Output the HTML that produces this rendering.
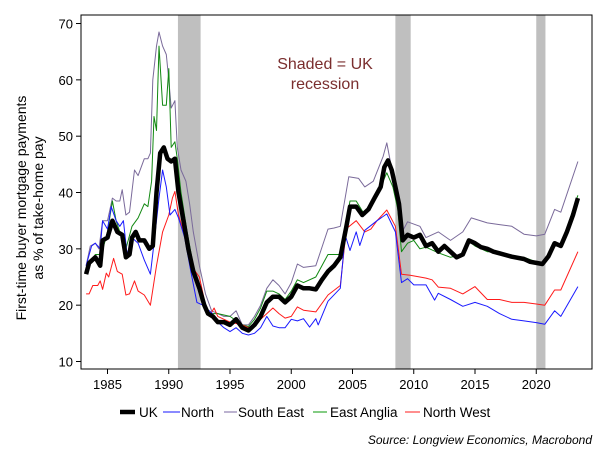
<!DOCTYPE html>
<html><head><meta charset="utf-8"><style>
body{margin:0;background:#fff;width:609px;height:455px;overflow:hidden;font-family:"Liberation Sans",Arial,sans-serif}
svg text{font-family:"Liberation Sans",Arial,sans-serif}
</style></head><body>
<svg id="chart" width="609" height="455" viewBox="0 0 609 455" xmlns="http://www.w3.org/2000/svg">
<g id="shade"></g>
<g id="series"></g>
<rect x="81" y="15" width="511" height="354" fill="none" stroke="#000" stroke-width="1"/>
<g id="yaxis"></g>
<g id="xaxis"></g>
<text transform="translate(26,208) rotate(-90)" text-anchor="middle" font-size="14">First-time buyer mortgage payments</text>
<text transform="translate(43,208) rotate(-90)" text-anchor="middle" font-size="14">as % of take-home pay</text>
<text x="325" y="69" text-anchor="middle" font-size="16" fill="#7a2e2e">Shaded = UK</text>
<text x="325" y="89" text-anchor="middle" font-size="16" fill="#7a2e2e">recession</text>
<g id="legend"></g>
<text x="592" y="444" text-anchor="end" font-size="12" font-style="italic">Source: Longview Economics, Macrobond</text>
</svg>
<script>
const yTicks=[10,20,30,40,50,60,70];
const xTicks=[1985,1990,1995,2000,2005,2010,2015,2020];
const recessions=[[1990.75,1992.6],[2008.5,2009.75],[2020.0,2020.75]];
const ukT=[1983.25,1983.5,1984,1984.4,1984.6,1985,1985.4,1985.8,1986.2,1986.5,1986.8,1987,1987.3,1987.6,1988,1988.4,1988.7,1989,1989.3,1989.6,1989.9,1990.2,1990.5,1990.8,1991.2,1991.6,1992,1992.5,1992.9,1993.2,1993.6,1994,1994.5,1995,1995.5,1996,1996.5,1997,1997.5,1998,1998.5,1999,1999.5,2000,2000.5,2001,2001.5,2002,2002.5,2003,2003.5,2004,2004.5,2004.8,2005.3,2005.8,2006.3,2006.8,2007.3,2007.6,2007.9,2008.2,2008.5,2008.8,2009.1,2009.5,2010,2010.5,2011,2011.5,2012,2012.5,2013,2013.5,2014,2014.5,2015,2015.5,2016,2016.5,2017,2018,2019,2019.5,2020,2020.5,2021,2021.5,2022,2022.5,2023,2023.4];
const ukV=[25.5,27.5,28.5,27,31.5,32,35,33,32.5,28.5,29,32,33,31.5,31.5,30,30.5,40,47,48,46,45.5,46,40,35,30,26,23,20,18.5,18,17,17,16.5,17.5,16,15.5,16.5,18,20.5,21.5,21.5,20.5,21.5,23.5,23,23,22.8,24.5,26,27,28.5,34,37.5,37.5,36,37,39,41,44.5,45.7,44,41,38,31.5,32.5,32,32.5,30.5,31,29.5,30.5,29.5,28.5,29,31.5,31,30.3,30,29.5,29.2,28.6,28.2,27.7,27.5,27.3,28.7,31,30.5,33,36,39];
const seT=[1983.25,1983.6,1984,1984.3,1984.6,1985,1985.4,1985.7,1986,1986.2,1986.5,1986.8,1987.2,1987.5,1988,1988.3,1988.5,1988.7,1989,1989.2,1989.5,1989.8,1990,1990.2,1990.5,1990.7,1991,1991.4,1991.7,1992,1992.5,1993,1993.5,1994,1994.5,1995,1995.5,1996,1996.5,1997,1997.5,1998,1998.5,1999,1999.5,2000,2000.5,2001,2002,2003,2003.5,2004,2004.7,2005.5,2006,2006.7,2007.5,2007.8,2008.5,2009,2009.5,2010.5,2011,2012,2013,2014,2014.7,2016,2017,2018,2019,2020,2020.7,2021.5,2022,2023.4];
const seV=[27,30.5,31,30,35,35,39,38.5,38.5,40.5,36,36.5,44,43,46,46,47,60,66,68.5,66,64.5,60,55,56.3,48,44,42,38,33,27,22,19,18.5,18,18,19,16.5,16.5,18,20,23,24.5,23.5,22,24,27.3,26.7,27,33.5,33.7,34,42.8,42.5,41,42,46.4,48.8,40.8,32.8,34.8,34,32,33,31.5,33,35.5,34.6,34.3,34,32.6,32.3,32.6,37,36.5,45.5];
const eaT=[1983.25,1984,1984.5,1985,1985.4,1985.7,1986,1986.5,1987,1987.5,1988,1988.3,1988.6,1988.8,1989,1989.2,1989.5,1989.8,1990,1990.2,1990.5,1990.7,1991,1991.5,1992,1992.5,1993,1993.5,1994,1995,1996,1996.5,1997,1997.5,1998,1998.5,1999,1999.5,2000,2000.5,2001,2002,2002.5,2003,2004,2004.8,2005.3,2006,2007,2007.8,2008.3,2008.7,2009,2009.5,2010,2010.5,2011,2012,2013,2014,2014.5,2015,2016,2017,2018,2019,2020,2020.5,2021,2021.5,2022,2023.4];
const eaV=[26,29,29,33,38.5,35,33,30,34,35.5,38,37.5,42,53.5,51,66,55.5,55.5,62,48,49,46,40,33,27,23.5,19,18.5,18.5,18,16.5,16.2,17.5,19.5,22.5,22.5,22,21,22.5,24.5,24,25,27,29,29,38.5,38.5,36,39.5,43.5,41,37,29.5,31,31.5,30,30.3,29.3,28.5,29,31.3,30.5,29.5,29.5,28.5,28.5,27.7,27.4,29,31,30.5,39.5];
const nwT=[1983.25,1983.5,1983.8,1984.2,1984.4,1984.6,1984.9,1985.1,1985.5,1985.8,1986.2,1986.5,1986.8,1987.2,1987.5,1988,1988.5,1989,1989.5,1990,1990.3,1990.5,1990.8,1991.2,1991.6,1992,1992.5,1993,1993.3,1993.7,1994,1995,1996,1996.5,1997,1998,1998.5,1999,1999.5,2000,2000.5,2001,2002,2003,2004,2004.5,2005.3,2006,2006.5,2007,2007.8,2008.5,2009,2009.7,2010.5,2011,2011.5,2012,2013,2014,2015,2016,2017,2018,2019,2020,2020.7,2021.5,2022,2023.4];
const nwV=[22,22,23.5,23.5,24.3,22.8,25.7,25,28.3,26,25.5,21.8,22,24.3,22.5,21.8,20,27,33,36,39,40.2,36,33,30,26.5,25,20,18,19.5,18,17,16.5,16,16.5,18.5,19.5,18.5,17.7,18,19.7,19.1,18.8,21.8,23.5,33.6,35,33,33.5,35,36.9,34,25.5,25.3,25,24.8,24.5,23.2,23,22,23.3,21,21,20.5,20.5,20.2,20,22.7,22.7,29.5];
const nT=[1983.25,1983.7,1984,1984.4,1984.6,1985,1985.3,1985.7,1986,1986.3,1986.6,1987,1987.5,1988,1988.5,1988.8,1989.2,1989.5,1989.8,1990.1,1990.5,1990.8,1991.3,1991.8,1992.3,1992.8,1993,1993.5,1994,1994.5,1995,1995.5,1996,1996.5,1997,1997.5,1998,1998.5,1999,1999.5,2000,2000.5,2001,2001.5,2002,2002.2,2003,2004,2004.4,2004.8,2005.3,2005.6,2006,2007,2007.8,2008.5,2009,2009.5,2010,2011,2011.7,2012,2013,2014,2015,2016,2017,2018,2019,2020,2020.7,2021.5,2022,2023.4];
const nV=[27,30.5,31,30,35,33.5,37.5,35,34,35,29,32,31,28,25.5,31,39,44,41,36,37,35.5,32,26,20.5,20,19.5,18.7,17,16,15.3,16,15,14.7,15,16,18,16.3,16,16,17.5,17.2,17.6,16.1,17.6,16.5,20.7,23,32.4,29.7,33,30.6,33.3,35,36.2,33,24,24.7,23.6,23.6,20.9,22.1,21,19.8,20.5,19.8,18.5,17.5,17.2,16.9,16.6,19,18,23.3];

const X=y=>107.5+(y-1985)*12.25;
const Y=v=>361.5-(v-10)*5.633;
const NS="http://www.w3.org/2000/svg";
function mk(tag,attrs,parent){const e=document.createElementNS(NS,tag);for(const k in attrs)e.setAttribute(k,attrs[k]);parent.appendChild(e);return e;}

const shade=document.getElementById('shade');
recessions.forEach(r=>{
  const e=mk('rect',{x:X(r[0]),y:15,width:X(r[1])-X(r[0]),height:354,fill:'#bfbfbf'},shade);
  
  
});
const ya=document.getElementById('yaxis');
yTicks.forEach(t=>{
  mk('line',{x1:76,x2:81,y1:Y(t),y2:Y(t),stroke:'#000'},ya);
  const e=mk('text',{x:73,y:Y(t)+5,'text-anchor':'end','font-size':13},ya);
  e.textContent=t;
  
  
});
const xa=document.getElementById('xaxis');
xTicks.forEach(t=>{
  mk('line',{x1:X(t),x2:X(t),y1:369,y2:374,stroke:'#000'},xa);
  const e=mk('text',{x:X(t),y:389,'text-anchor':'middle','font-size':13},xa);
  e.textContent=t;
  
  
});
const sg=document.getElementById('series');
const series=[
 {n:'series-south-east',t:seT,v:seV,c:'#7a6a9a',w:1},
 {n:'series-east-anglia',t:eaT,v:eaV,c:'#118811',w:1},
 {n:'series-north-west',t:nwT,v:nwV,c:'#ff1a1a',w:1},
 {n:'series-north',t:nT,v:nV,c:'#1a1aff',w:1},
 {n:'series-uk',t:ukT,v:ukV,c:'#000',w:4.5}
];
series.forEach(s=>{
  const d=s.t.map((t,i)=>(i?'L':'M')+X(t).toFixed(1)+','+Y(s.v[i]).toFixed(1)).join('');
  const p=mk('path',{d:d,fill:'none',stroke:s.c,'stroke-width':s.w,'stroke-linejoin':'round'},sg);
  
  
});
const lg=document.getElementById('legend');
const items=[['UK','#000',4.5,120,135,139],['North','#4444ff',1.2,163,180,181],['South East','#9080b0',1.2,224,237,238],['East Anglia','#33aa33',1.2,313,327,330],['North West','#ff4444',1.2,405,420,423]];
items.forEach(it=>{
  mk('line',{x1:it[3],x2:it[4],y1:412,y2:412,stroke:it[1],'stroke-width':it[2]},lg);
  const e=mk('text',{x:it[5],y:417,'font-size':13.5},lg);
  e.textContent=it[0];
  
  
});
</script>
</body></html>
